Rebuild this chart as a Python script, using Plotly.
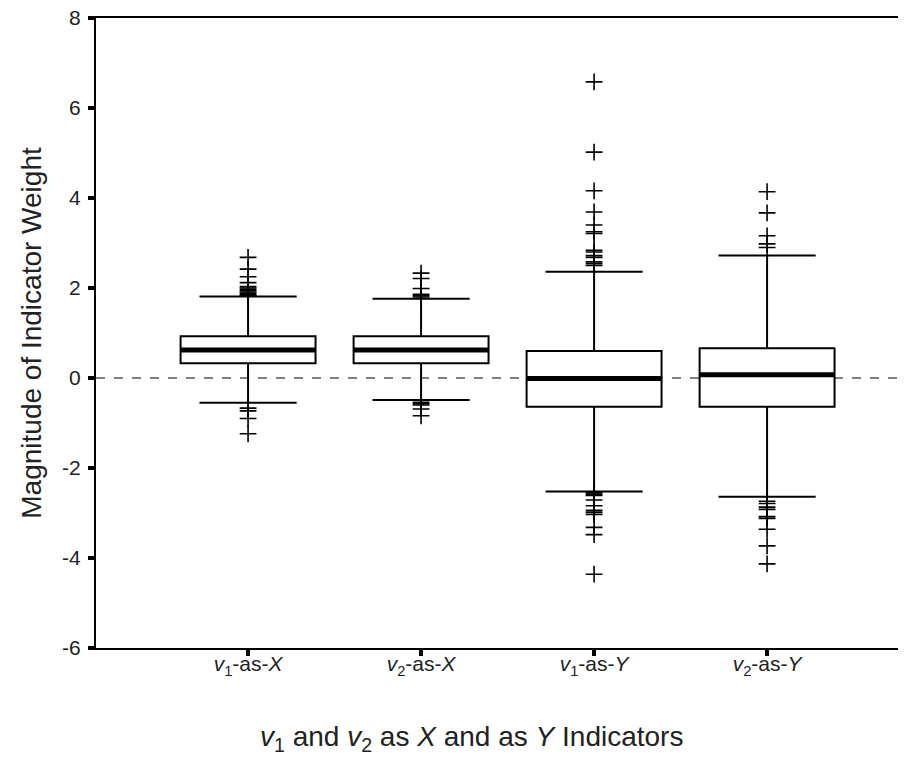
import plotly.graph_objects as go

# ---------------- data ----------------
categories = [
    "<i>v</i><sub>1</sub>-as-<i>X</i>",
    "<i>v</i><sub>2</sub>-as-<i>X</i>",
    "<i>v</i><sub>1</sub>-as-<i>Y</i>",
    "<i>v</i><sub>2</sub>-as-<i>Y</i>",
]
q1 = [0.33, 0.33, -0.64, -0.64]
median = [0.62, 0.62, -0.01, 0.07]
q3 = [0.93, 0.93, 0.60, 0.66]
lower_whisker = [-0.55, -0.49, -2.52, -2.64]
upper_whisker = [1.81, 1.76, 2.36, 2.72]

outliers_v1_as_x = [2.68, 2.42, 2.25, 2.12, 2.03, 2.00, 1.97, 1.94, 1.91,
                    1.88, 1.85, 1.83, -0.67, -0.73, -0.90, -1.24]
outliers_v2_as_x = [2.33, 2.21, 1.99, 1.86, 1.83, 1.80,
                    -0.54, -0.57, -0.60, -0.69, -0.84]
outliers_v1_as_y = [6.58, 5.02, 4.16, 3.69, 3.40, 3.25, 3.21, 2.84, 2.80,
                    2.72, 2.68, 2.58, 2.54, 2.50,
                    -2.55, -2.58, -2.61, -2.71, -2.84, -2.94, -2.98, -3.03,
                    -3.32, -3.48, -4.36]
outliers_v2_as_y = [4.14, 3.67, 3.16, 2.98, 2.90,
                    -2.74, -2.79, -2.87, -2.92, -3.08, -3.12, -3.36, -3.73,
                    -4.13]
outliers = [outliers_v1_as_x, outliers_v2_as_x, outliers_v1_as_y, outliers_v2_as_y]

y_ticks = [-6, -4, -2, 0, 2, 4, 6, 8]
y_tick_labels = ["-6", "-4", "-2", "0", "2", "4", "6", "8"]
y_title = "Magnitude of Indicator Weight"
x_title = ("<i>v</i><sub>1</sub> and <i>v</i><sub>2</sub> as <i>X</i> "
           "and as <i>Y</i> Indicators")

# ---------------- figure ----------------
positions = list(range(len(categories)))
BOX_W = 0.78
FONT = "Liberation Sans, Arial, Helvetica, sans-serif"

fig = go.Figure()

fig.add_trace(go.Box(
    x=positions,
    q1=q1, median=median, q3=q3,
    lowerfence=lower_whisker, upperfence=upper_whisker,
    width=BOX_W, whiskerwidth=0.72,
    fillcolor="white",
    line=dict(color="black", width=2),
    boxpoints=False,
    showlegend=False,
    hoverinfo="skip",
))

# thick median bars
for i, m in enumerate(median):
    fig.add_trace(go.Scatter(
        x=[positions[i] - BOX_W / 2, positions[i] + BOX_W / 2],
        y=[m, m],
        mode="lines",
        line=dict(color="black", width=5),
        showlegend=False,
        hoverinfo="skip",
    ))

# outliers
ox, oy = [], []
for i, vals in enumerate(outliers):
    ox += [positions[i]] * len(vals)
    oy += vals
fig.add_trace(go.Scatter(
    x=ox, y=oy, mode="markers",
    marker=dict(symbol="cross-thin", size=12, color="black",
                line=dict(color="black", width=1.6)),
    showlegend=False, hoverinfo="skip",
))

fig.add_hline(y=0, line=dict(color="black", width=1, dash="dash"), layer="below")

fig.add_annotation(
    text=x_title, xref="paper", yref="paper",
    x=0.463, y=-0.143, xanchor="center", yanchor="middle",
    showarrow=False, font=dict(size=28, color="#222222"),
)

fig.update_layout(
    width=898, height=760,
    margin=dict(l=88, r=0, t=10, b=120),
    paper_bgcolor="white", plot_bgcolor="white",
    font=dict(family=FONT, color="#222222"),
    xaxis=dict(
        range=[-0.879, 3.803],
        tickmode="array", tickvals=positions, ticktext=categories,
        tickfont=dict(size=21),
        ticks="outside", ticklen=6, tickwidth=4, tickcolor="black",
        ticklabelstandoff=-10, ticklabeloverflow="allow",
        showline=True, linecolor="black", linewidth=2, mirror=True,
        showgrid=False, zeroline=False, automargin=False,
    ),
    yaxis=dict(
        range=[-6, 8],
        tickmode="array", tickvals=y_ticks, ticktext=y_tick_labels,
        tickfont=dict(size=21),
        ticks="outside", ticklen=6, tickwidth=4, tickcolor="black",
        ticklabelstandoff=3, ticklabeloverflow="allow",
        showline=True, linecolor="black", linewidth=2,
        showgrid=False, zeroline=False, automargin=False,
        title=dict(text=y_title, font=dict(size=28), standoff=12),
    ),
)

fig.write_html("out.html")
